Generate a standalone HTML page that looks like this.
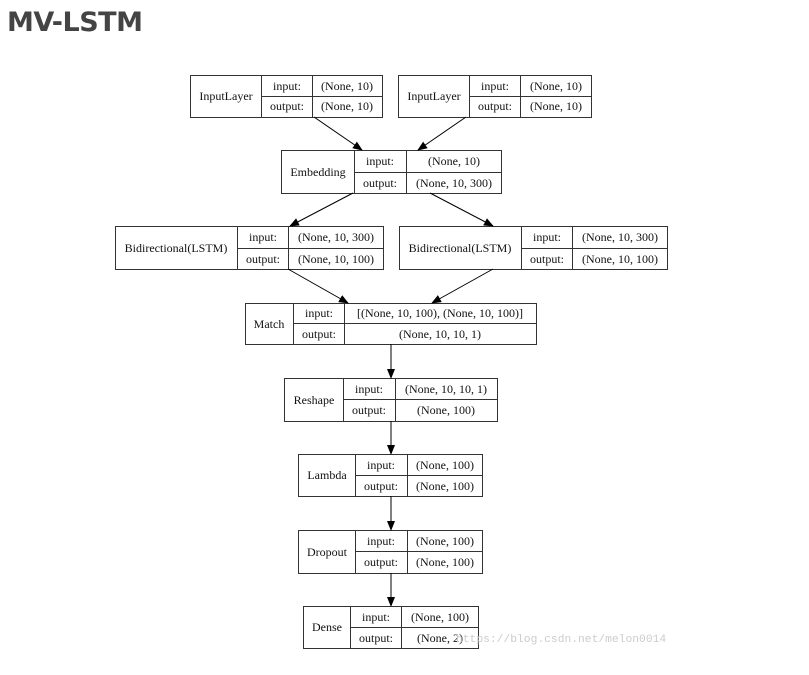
<!DOCTYPE html>
<html><head><meta charset="utf-8"><style>
html,body{margin:0;padding:0;background:#fff;}
body{width:809px;height:675px;overflow:hidden;position:relative;}
.t{position:absolute;left:7px;top:7px;font-family:"DejaVu Sans","Liberation Sans",sans-serif;font-weight:bold;font-size:27px;color:#444;letter-spacing:-0.5px;}
svg text{font-family:"Liberation Serif",serif;font-size:12px;fill:#111;}
</style></head><body>
<div class="t">MV-LSTM</div>
<svg width="809" height="675" style="position:absolute;left:0;top:0">
<defs><marker id="a" markerWidth="10" markerHeight="8" refX="9" refY="4" orient="auto" markerUnits="userSpaceOnUse"><path d="M0,0 L10,4 L0,8z" fill="#000"/></marker></defs>
<g stroke="#333" stroke-width="1" fill="none">
<rect x="190.5" y="75.5" width="192" height="42"/><path d="M261.5 75v42M312.5 75v42M261 96.5h121"/>
<rect x="398.5" y="75.5" width="193" height="42"/><path d="M469.5 75v42M520.5 75v42M469 96.5h122"/>
<rect x="281.5" y="150.5" width="220" height="43"/><path d="M354.5 150v43M406.5 150v43M354 172.5h147"/>
<rect x="115.5" y="226.5" width="268" height="43"/><path d="M237.5 226v43M288.5 226v43M237 248.5h146"/>
<rect x="399.5" y="226.5" width="268" height="43"/><path d="M521.5 226v43M572.5 226v43M521 248.5h146"/>
<rect x="245.5" y="303.5" width="291" height="41"/><path d="M293.5 303v41M344.5 303v41M293 323.5h243"/>
<rect x="284.5" y="378.5" width="213" height="43"/><path d="M343.5 378v43M395.5 378v43M343 399.5h154"/>
<rect x="298.5" y="454.5" width="184" height="42"/><path d="M355.5 454v42M407.5 454v42M355 475.5h127"/>
<rect x="298.5" y="530.5" width="184" height="43"/><path d="M355.5 530v43M407.5 530v43M355 551.5h127"/>
<rect x="303.5" y="606.5" width="175" height="42"/><path d="M350.5 606v42M401.5 606v42M350 627.5h128"/>
</g>
<g stroke="#000" stroke-width="1" marker-end="url(#a)">
<line x1="314" y1="117" x2="362" y2="150"/>
<line x1="466" y1="117" x2="418" y2="150"/>
<line x1="353" y1="193" x2="290" y2="226"/>
<line x1="430" y1="193" x2="493" y2="226"/>
<line x1="288" y1="269" x2="348" y2="303"/>
<line x1="493" y1="269" x2="432" y2="303"/>
<line x1="391" y1="344" x2="391" y2="378"/>
<line x1="391" y1="421" x2="391" y2="454"/>
<line x1="391" y1="496" x2="391" y2="530"/>
<line x1="391" y1="573" x2="391" y2="606"/>
</g>
<g text-anchor="middle">
<text x="226" y="100">InputLayer</text><text x="287" y="90">input:</text><text x="287" y="110">output:</text><text x="347" y="90">(None, 10)</text><text x="347" y="110">(None, 10)</text>
<text x="434" y="100">InputLayer</text><text x="495" y="90">input:</text><text x="495" y="110">output:</text><text x="556" y="90">(None, 10)</text><text x="556" y="110">(None, 10)</text>
<text x="318" y="176">Embedding</text><text x="380" y="165">input:</text><text x="380" y="187">output:</text><text x="454" y="165">(None, 10)</text><text x="454" y="187">(None, 10, 300)</text>
<text x="176" y="252">Bidirectional(LSTM)</text><text x="263" y="241">input:</text><text x="263" y="263">output:</text><text x="336" y="241">(None, 10, 300)</text><text x="336" y="263">(None, 10, 100)</text>
<text x="460" y="252">Bidirectional(LSTM)</text><text x="547" y="241">input:</text><text x="547" y="263">output:</text><text x="620" y="241">(None, 10, 300)</text><text x="620" y="263">(None, 10, 100)</text>
<text x="269" y="328">Match</text><text x="319" y="317">input:</text><text x="319" y="338">output:</text><text x="440" y="317">[(None, 10, 100), (None, 10, 100)]</text><text x="440" y="338">(None, 10, 10, 1)</text>
<text x="314" y="404">Reshape</text><text x="369" y="393">input:</text><text x="369" y="414">output:</text><text x="446" y="393">(None, 10, 10, 1)</text><text x="446" y="414">(None, 100)</text>
<text x="327" y="479">Lambda</text><text x="381" y="469">input:</text><text x="381" y="490">output:</text><text x="445" y="469">(None, 100)</text><text x="445" y="490">(None, 100)</text>
<text x="327" y="556">Dropout</text><text x="381" y="545">input:</text><text x="381" y="566">output:</text><text x="445" y="545">(None, 100)</text><text x="445" y="566">(None, 100)</text>
<text x="327" y="631">Dense</text><text x="376" y="621">input:</text><text x="376" y="642">output:</text><text x="440" y="621">(None, 100)</text><text x="440" y="642">(None, 2)</text>
</g>
<text x="456" y="642" style="font-family:'Liberation Mono',monospace;font-size:11.3px;fill:#ccc">https://blog.csdn.net/melon0014</text>
</svg>
</body></html>
